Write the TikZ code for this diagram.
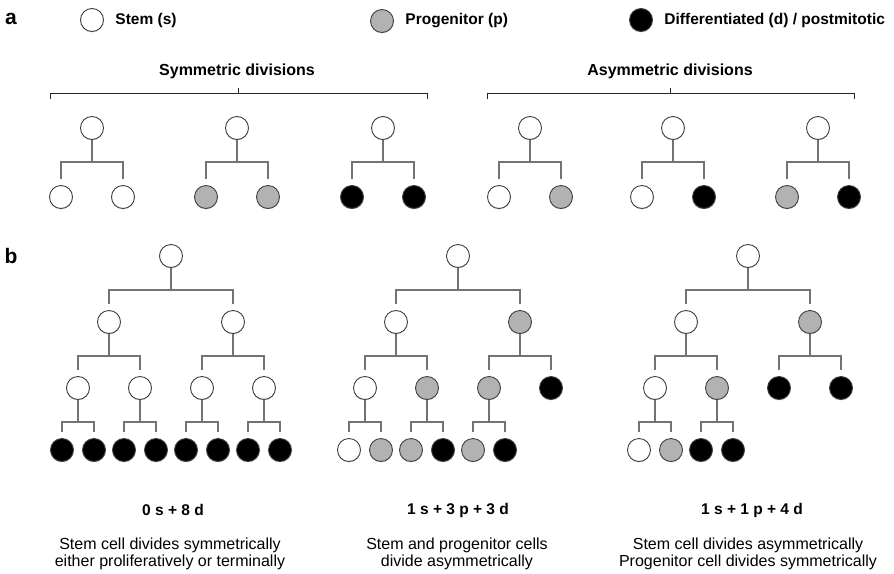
\documentclass[tikz,border=0pt]{standalone}
\usepackage{fontspec}
\setmainfont{Liberation Sans}
\usetikzlibrary{positioning,shadows}
\tikzset{
  cell/.style={circle,draw=black!75,line width=0.9pt,minimum size=23pt,inner sep=0pt,
    drop shadow={opacity=0.25,shadow xshift=0pt,shadow yshift=-1pt}},
  stem/.style={cell,fill=white},
  prog/.style={cell,fill=black!30},
  diff/.style={cell,fill=black},
  branch/.style={draw=black!55,line width=1.3pt},
  bracket/.style={draw=black!85,line width=0.8pt},
  keytext/.style={font=\bfseries\fontsize{15.5}{18}\selectfont,anchor=west},
  headtext/.style={font=\bfseries\fontsize{16}{18}\selectfont},
  sumtext/.style={font=\bfseries\fontsize{15.5}{18}\selectfont},
  desctext/.style={align=center,font=\fontsize{16}{17.5}\selectfont},
  panel/.style={font=\bfseries\fontsize{21}{24}\selectfont},
}
% parent, left child, right child
\newcommand\cellsplit[3]{%
  \draw[branch] (#1.south) -- ++(0,22) coordinate (#1-b);
  \draw[branch] ([yshift=6pt]#2.north) |- (#1-b) -| ([yshift=6pt]#3.north);
}
\begin{document}
\begin{tikzpicture}[x=1pt,y=-1pt]
\useasboundingbox (0,0) rectangle (894,573);
% legend
\node[panel] (pa) at (11,19) {a};
\node[stem] (kstem) at (92,20) {};
\node[keytext,right=8pt of kstem] (tstem) {Stem (s)};
\node[prog] (kprog) at (382,21) {};
\node[keytext,right=8pt of kprog] (tprog) {Progenitor (p)};
\node[diff] (kdiff) at (641,20) {};
\node[keytext,right=8pt of kdiff] (tdiff) {Differentiated (d) / postmitotic};
% headings and brackets
\node[headtext] (hsym) at (237,71) {Symmetric divisions};
\node[headtext] (hasym) at (670,71) {Asymmetric divisions};
\draw[bracket] (50,99) -- (50,93) -- (427,93) -- (427,99);
\draw[bracket] (238,93) -- (238,88);
\draw[bracket] (487,99) -- (487,93) -- (854,93) -- (854,99);
\draw[bracket] (670,93) -- (670,88);
% part a
\foreach \i/\x/\l/\r in {1/92/stem/stem,2/237/prog/prog,3/383/diff/diff,
                         4/530/stem/prog,5/673/stem/diff,6/818/prog/diff}{
  \node[stem] (a\i) at (\x,128) {};
  \node[\l] (a\i l) at (\x-31,197) {};
  \node[\r] (a\i r) at (\x+31,197) {};
  \cellsplit{a\i}{a\i l}{a\i r}
}
% part b, tree 1
\node[panel] (pb) at (11,256) {b};
\node[stem] (u) at (171,256) {};
\node[stem] (ul) at (109,322) {};
\node[stem] (ur) at (233,322) {};
\node[stem] (ull) at (78,388) {};
\node[stem] (ulr) at (140,388) {};
\node[stem] (url) at (202,388) {};
\node[stem] (urr) at (264,388) {};
\foreach \n/\x in {ull/78,ulr/140,url/202,urr/264}{
  \node[diff] (\n l) at (\x-16,450) {};
  \node[diff] (\n r) at (\x+16,450) {};
  \cellsplit{\n}{\n l}{\n r}
}
\cellsplit{u}{ul}{ur}
\cellsplit{ul}{ull}{ulr}
\cellsplit{ur}{url}{urr}
% tree 2
\node[stem] (v) at (458,256) {};
\node[stem] (vl) at (396,322) {};
\node[prog] (vr) at (520,322) {};
\node[stem] (vll) at (365,388) {};
\node[prog] (vlr) at (427,388) {};
\node[prog] (vrl) at (489,388) {};
\node[diff] (vrr) at (551,388) {};
\node[stem] (vlll) at (349,450) {};
\node[prog] (vllr) at (381,450) {};
\node[prog] (vlrl) at (411,450) {};
\node[diff] (vlrr) at (443,450) {};
\node[prog] (vrll) at (473,450) {};
\node[diff] (vrlr) at (505,450) {};
\cellsplit{v}{vl}{vr}
\cellsplit{vl}{vll}{vlr}
\cellsplit{vr}{vrl}{vrr}
\cellsplit{vll}{vlll}{vllr}
\cellsplit{vlr}{vlrl}{vlrr}
\cellsplit{vrl}{vrll}{vrlr}
% tree 3
\node[stem] (w) at (748,256) {};
\node[stem] (wl) at (686,322) {};
\node[prog] (wr) at (810,322) {};
\node[stem] (wll) at (655,388) {};
\node[prog] (wlr) at (717,388) {};
\node[diff] (wrl) at (779,388) {};
\node[diff] (wrr) at (841,388) {};
\node[stem] (wlll) at (639,450) {};
\node[prog] (wllr) at (671,450) {};
\node[diff] (wlrl) at (701,450) {};
\node[diff] (wlrr) at (733,450) {};
\cellsplit{w}{wl}{wr}
\cellsplit{wl}{wll}{wlr}
\cellsplit{wr}{wrl}{wrr}
\cellsplit{wll}{wlll}{wllr}
\cellsplit{wlr}{wlrl}{wlrr}
% counts and captions
\node[sumtext] (s1) at (173,510) {0 s + 8 d};
\node[sumtext] (s2) at (458,510) {1 s + 3 p + 3 d};
\node[sumtext] (s3) at (752,510) {1 s + 1 p + 4 d};
\node[desctext] (d1) at (170,554) {Stem cell divides symmetrically\\either proliferatively or terminally};
\node[desctext] (d2) at (457,554) {Stem and progenitor cells\\divide asymmetrically};
\node[desctext] (d3) at (748,554) {Stem cell divides asymmetrically\\Progenitor cell divides symmetrically};
\end{tikzpicture}
\end{document}
